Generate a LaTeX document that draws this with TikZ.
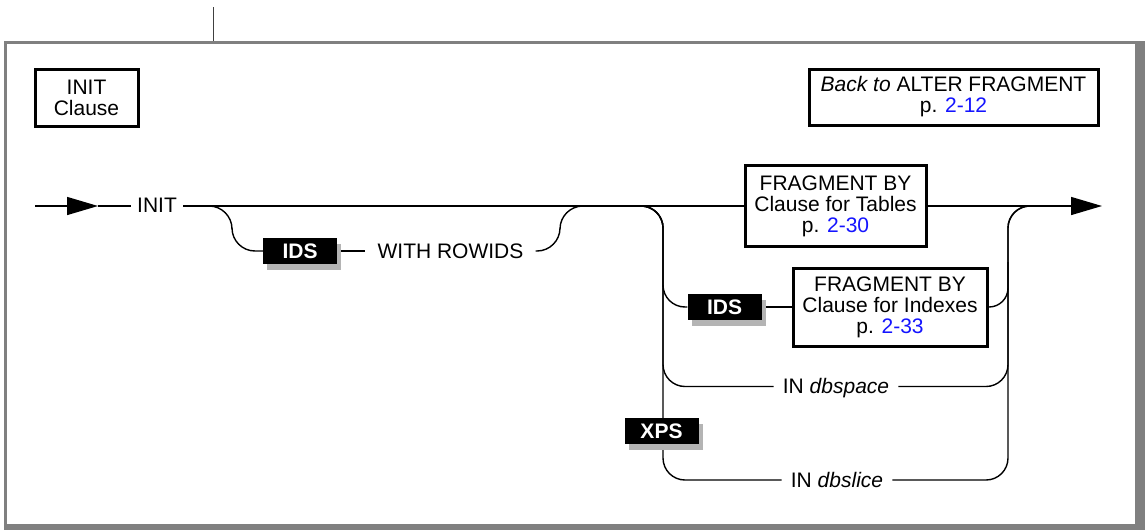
\documentclass[tikz,border=0pt]{standalone}
\usepackage{fontspec}
\setmainfont{Liberation Sans}
\usetikzlibrary{arrows.meta,shadows}
\pgfdeclarelayer{bg}
\pgfdeclarelayer{tracks}
\pgfsetlayers{bg,tracks,main}
\definecolor{framegray}{RGB}{128,128,128}
\definecolor{shadowgray}{RGB}{180,180,180}
\definecolor{linkblue}{RGB}{20,20,255}
\begin{document}
\begin{tikzpicture}[x=1pt,y=-1pt,
  every node/.style={font=\fontsize{21}{21}\selectfont},
  track/.style={line width=1.4pt},
  refbox/.style={draw, line width=3pt, align=center, inner sep=0pt},
  lbl/.style={text height=14.9pt, text depth=0pt, inner ysep=0pt},
  tag/.style={fill=black, text=white, font=\fontsize{21}{21}\selectfont\bfseries,
    minimum width=74pt, minimum height=26pt, inner sep=0pt,
    text height=14.9pt, text depth=0pt,
    drop shadow={shadow xshift=4pt, shadow yshift=-5.5pt, fill=shadowgray, opacity=1}},
  tip/.style={-{Triangle[length=31pt,width=18pt]}}
]
\useasboundingbox (0,0) rectangle (1145,530);

% frame
\begin{pgfonlayer}{bg}
  \fill[framegray] (4,41) rectangle (1145,530);
  \fill[white] (7,44) rectangle (1135,524);
  \coordinate (ruletop) at (213,7);
  \coordinate (rulebot) at (213,41);
  \draw[line width=1pt, black!75] (ruletop) -- (rulebot);
\end{pgfonlayer}

% nodes
\node[refbox, minimum width=103pt, minimum height=57pt] (initclause) at (86.5,97.5) {INIT\\Clause};
\node[refbox, minimum width=289pt, minimum height=56pt] (backto) at (953.5,97) {\textit{Back to} ALTER FRAGMENT\\p. \textcolor{linkblue}{2-12}};
\node[lbl, inner xsep=6pt] (init) at (157,205.5) {INIT};
\node[tag] (ids1) at (300,251) {IDS};
\node[lbl, inner xsep=12pt] (rowids) at (450.5,251) {WITH ROWIDS};
\node[refbox, minimum width=181pt, minimum height=81pt] (box1) at (835.5,206) {FRAGMENT BY\\Clause for Tables\\p. \textcolor{linkblue}{2-30}};
\node[tag] (ids2) at (724.5,307) {IDS};
\node[refbox, minimum width=194pt, minimum height=78pt] (box2) at (890,307) {FRAGMENT BY\\Clause for Indexes\\p. \textcolor{linkblue}{2-33}};
\node[lbl, inner xsep=9pt] (dbspace) at (836,386.5) {IN \textit{dbspace}};
\node[tag] (xps) at (661.5,431) {XPS};
\node[lbl, inner xsep=9pt] (dbslice) at (837,480) {IN \textit{dbslice}};

% junction points
\coordinate (startp) at (35,206);
\coordinate (arr1) at (98,206);
\coordinate (a1) at (232,206);
\coordinate (a2) at (560,206);
\coordinate (b1) at (663,206);
\coordinate (b2) at (1008,206);
\coordinate (d2) at (1008,262);
\coordinate (c2) at (1050,206);
\coordinate (arr2) at (1102,206);

\begin{pgfonlayer}{tracks}
  \draw[track,tip] (startp) -- (arr1);
  \draw[track] (arr1) -- (init.west |- arr1);
  \draw[track] (init.east |- a1) -- (box1.west);
  \draw[track,tip] (box1.east) -- (arr2);
  \draw[track, rounded corners=23pt] (init.east |- a1) -- (a1) |- (ids1.west);
  \draw[track] (ids1.east) -- (rowids.west);
  \draw[track, rounded corners=23pt] (rowids.east) -| (a2) -- (box1.west);
  \draw[track, rounded corners=22pt] (a2) -- (b1) |- (ids2.west);
  \draw[track] (ids2.east) -- (box2.west);
  \draw[track, rounded corners=22pt] (a2) -- (b1) |- (dbspace.west);
  \draw[track, rounded corners=22pt] (a2) -- (b1) |- (dbslice.west);
  \draw[track, rounded corners=19pt] (box2.east) -| (d2);
  \draw[track, rounded corners=22pt] (dbspace.east) -| (b2) -- (c2);
  \draw[track, rounded corners=22pt] (dbslice.east) -| (b2) -- (c2);
\end{pgfonlayer}
\end{tikzpicture}
\end{document}
